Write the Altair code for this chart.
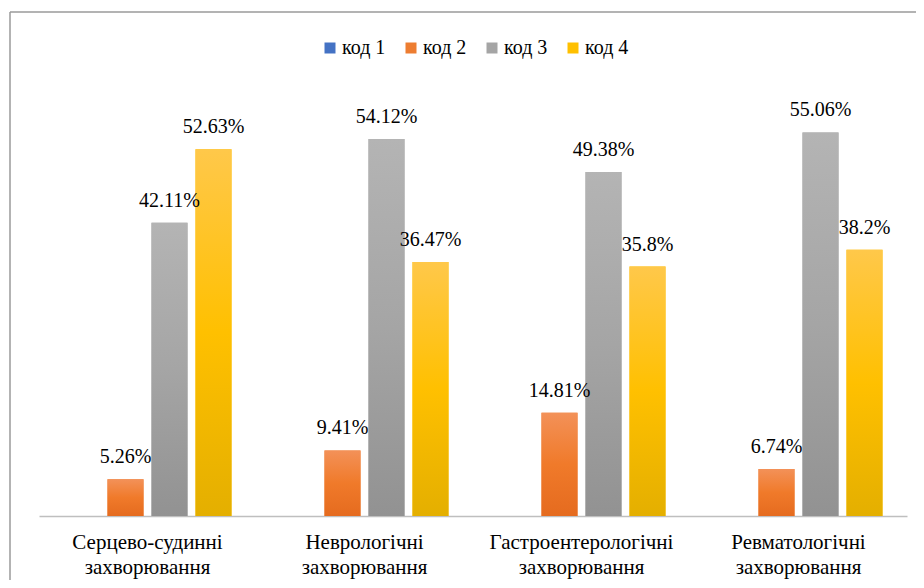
import altair as alt
import pandas as pd

categories = ["Серцево-судинні захворювання", "Неврологічні захворювання",
              "Гастроентерологічні захворювання", "Ревматологічні захворювання"]
codes = ["код 1", "код 2", "код 3", "код 4"]
kod1 = [0, 0, 0, 0]
kod2 = [5.26, 9.41, 14.81, 6.74]
kod3 = [42.11, 54.12, 49.38, 55.06]
kod4 = [52.63, 36.47, 35.8, 38.2]
legend_colors = ["#4472C4", "#ED7D31", "#A5A5A5", "#FFC000"]
grad_top = ["#6E95D6", "#F39158", "#B4B4B4", "#FFC84A"]
grad_mid = ["#4472C4", "#F07A2A", "#A5A5A5", "#FFC000"]
grad_bot = ["#3760AA", "#E56B1F", "#929292", "#E4AF00"]

series = [kod1, kod2, kod3, kod4]
rows = []
for ci, code in enumerate(codes):
    for ki, cat in enumerate(categories):
        rows.append({"cat": cat, "code": code, "value": series[ci][ki]})
df = pd.DataFrame(rows)

FONT = "Liberation Serif"

x_enc = alt.X("cat:N", sort=categories,
              scale=alt.Scale(paddingInner=49 / 217, paddingOuter=49 / 434),
              axis=alt.Axis(title=None, labelAngle=0, ticks=False,
                            labelExpr="split(datum.label, ' ')",
                            labelFont=FONT, labelFontSize=21, labelColor="#000000",
                            labelLineHeight=25, labelPadding=15, labelLimit=400,
                            domainColor="#BFBFBF", domainWidth=1.3))
xo_enc = alt.XOffset("code:N", sort=codes,
                     scale=alt.Scale(paddingInner=8 / 44, paddingOuter=0))
y_enc = alt.Y("value:Q", scale=alt.Scale(domain=[0, 60], nice=False), axis=None)

base = alt.Chart(df)

bars = base.mark_bar().encode(
    x=x_enc, xOffset=xo_enc, y=y_enc,
    color=alt.Color("code:N", sort=codes,
                    scale=alt.Scale(domain=codes, range=legend_colors),
                    legend=alt.Legend(title=None, orient="none", direction="horizontal",
                                      legendX=281, legendY=-60,
                                      symbolType="square", symbolSize=121,
                                      symbolStrokeWidth=0, symbolOpacity=1,
                                      labelFont=FONT, labelFontSize=20,
                                      labelColor="#000000", labelOffset=2,
                                      columnPadding=15, columns=4)),
)

grad_layers = []
for i, code in enumerate(codes):
    g = {"gradient": "linear", "x1": 0, "y1": 0, "x2": 0, "y2": 1,
         "stops": [{"offset": 0, "color": grad_top[i]},
                   {"offset": 0.5, "color": grad_mid[i]},
                   {"offset": 1, "color": grad_bot[i]}]}
    grad_layers.append(
        base.transform_filter(alt.datum.code == code)
        .mark_bar(fill=g)
        .encode(x=alt.X("cat:N", sort=categories), xOffset=alt.XOffset("code:N", sort=codes),
                y=alt.Y("value:Q"))
    )

labels = base.transform_filter(alt.datum.value > 0).transform_calculate(
    lab="datum.value + '%'"
).mark_text(font=FONT, fontSize=20, color="#000000", baseline="alphabetic", dy=-16).encode(
    x=alt.X("cat:N", sort=categories), xOffset=alt.XOffset("code:N", sort=codes),
    y=alt.Y("value:Q"), text="lab:N")

one = pd.DataFrame({"a": [0]})
border_top = alt.Chart(one).mark_rule(color="#9A9A9A", strokeWidth=1.5).encode(
    x=alt.value(-29), x2=alt.value(900), y=alt.value(-86))
border_left = alt.Chart(one).mark_rule(color="#9A9A9A", strokeWidth=1.5).encode(
    x=alt.value(-29), y=alt.value(-86), y2=alt.value(600))

chart = alt.layer(border_top, border_left, bars, *grad_layers, labels).properties(
    width=868, height=418,
    background="white",
    autosize=alt.AutoSizeParams(type="none"),
    padding={"left": 31, "top": 90, "right": 9, "bottom": 64},
).configure_view(strokeWidth=0)

chart.save("out.html", embed_options={"renderer": "svg", "actions": False})
